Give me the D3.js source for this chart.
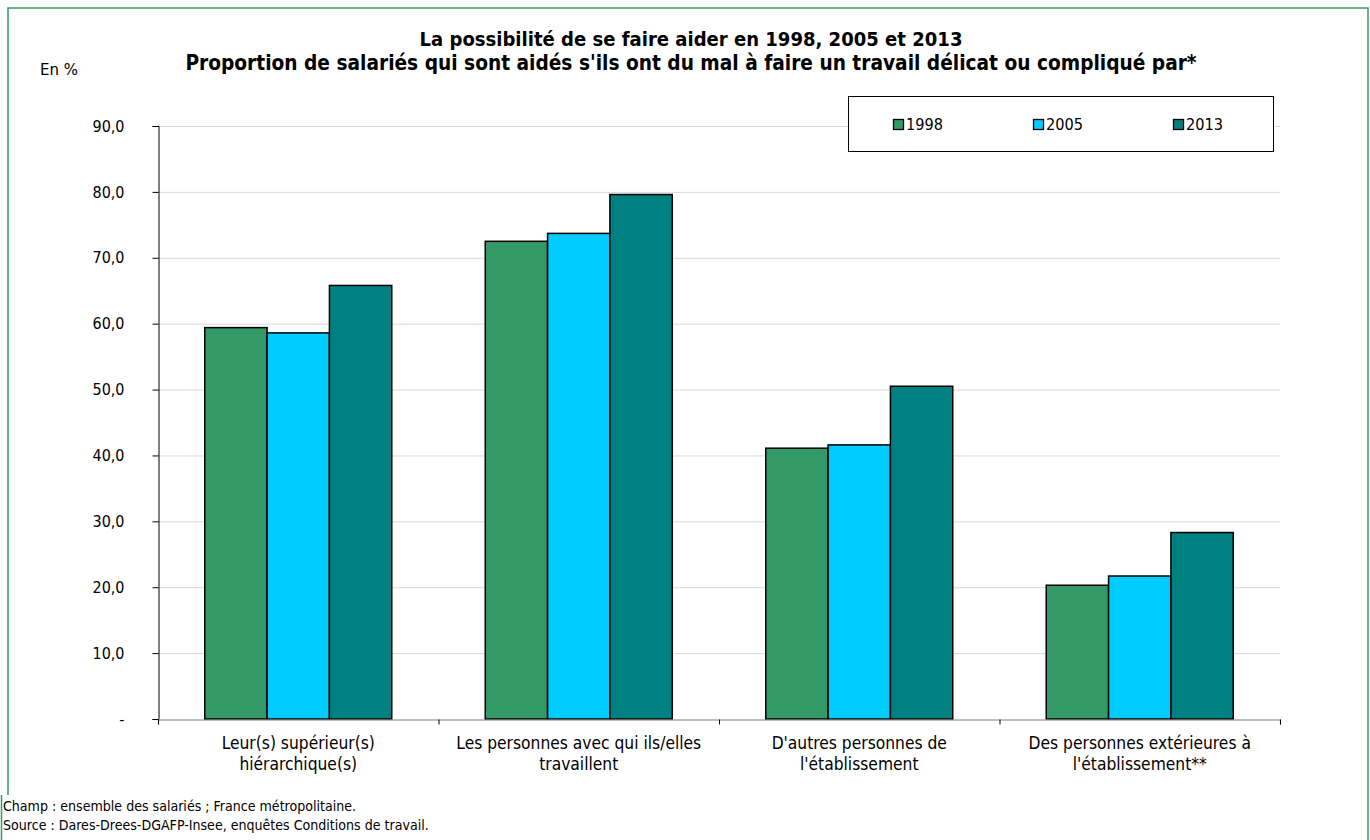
<!DOCTYPE html>
<html><head><meta charset="utf-8">
<script src="https://cdn.jsdelivr.net/npm/d3@7"></script>
<style>body{margin:0;background:#fff}svg{display:block}text{font-family:"DejaVu Sans",Verdana,sans-serif;font-stretch:condensed}</style>
</head><body>
<svg id="c" width="1370" height="840"></svg>
<script>
const categories = [
  ["Leur(s) supérieur(s)", "hiérarchique(s)"],
  ["Les personnes avec qui ils/elles", "travaillent"],
  ["D'autres personnes de", "l'établissement"],
  ["Des personnes extérieures à", "l'établissement**"]
];
const years = ["1998", "2005", "2013"];
const values1998 = [59.4, 72.5, 41.1, 20.3];
const values2005 = [58.6, 73.7, 41.6, 21.7];
const values2013 = [65.8, 79.6, 50.5, 28.3];
const colors = ["#339966", "#00ccff", "#008080"];
const yTicks = [0, 10, 20, 30, 40, 50, 60, 70, 80, 90];
const titleLines = ["La possibilité de se faire aider en 1998, 2005 et 2013",
  "Proportion de salariés qui sont aidés s'ils ont du mal à faire un travail délicat ou compliqué par*"];
const footnotes = ["Champ : ensemble des salariés ; France métropolitaine.",
  "Source : Dares-Drees-DGAFP-Insee, enquêtes Conditions de travail."];

const series = [values1998, values2005, values2013];
const svg = d3.select("#c");
const m = {left: 158, right: 1280, top: 126, bottom: 719};

function fitSize(sample, target, weight) {
  const t = svg.append("text").attr("font-size", 20).attr("font-weight", weight || "normal").text(sample);
  const w = t.node().getComputedTextLength();
  t.remove();
  return 20 * target / w;
}
const fsCat = fitSize("Les personnes avec qui ils/elles", 245);
const fsTick = fitSize("90,0", 32);
const fsFoot = fitSize("Source : Dares-Drees-DGAFP-Insee, enquêtes Conditions de travail.", 426);
const fsLeg = fitSize("1998", 37);
const fsEn = fitSize("En %", 38);

// outer frame
svg.append("rect").attr("x", 8).attr("y", 8).attr("width", 1360).attr("height", 840)
  .attr("fill", "none").attr("stroke", "#339966").attr("stroke-width", 1.5);

const x0 = d3.scaleBand().domain(d3.range(categories.length)).range([m.left, m.right]).paddingInner(0).paddingOuter(0);
const inner = x0.bandwidth() * 2 / 3;
const x1 = d3.scaleBand().domain(d3.range(years.length)).range([0, inner]);
const y = d3.scaleLinear().domain([0, 90]).range([m.bottom, m.top]);

// gridlines
svg.append("g").selectAll("line").data(yTicks.filter(d => d > 0)).join("line")
  .attr("x1", m.left).attr("x2", m.right)
  .attr("y1", d => y(d) + 0.5).attr("y2", d => y(d) + 0.5)
  .attr("stroke", "#d9d9d9").attr("stroke-width", 1);

// bars
const groups = svg.append("g").selectAll("g").data(categories.map((c, i) => i)).join("g")
  .attr("transform", i => `translate(${x0(i) + (x0.bandwidth() - inner) / 2},0)`);
groups.selectAll("rect").data(i => series.map((s, k) => ({k, v: s[i]}))).join("rect")
  .attr("x", d => x1(d.k)).attr("width", x1.bandwidth())
  .attr("y", d => y(d.v)).attr("height", d => y(0) - y(d.v))
  .attr("fill", d => colors[d.k]).attr("stroke", "#000").attr("stroke-width", 1.5);

// y axis
const yAxis = d3.axisLeft(y).tickValues(yTicks).tickSize(6).tickPadding(28)
  .tickFormat(d => d === 0 ? "-" : d3.format(".1f")(d).replace(".", ","));
const ga = svg.append("g").attr("transform", `translate(${m.left + 0.5},0)`).call(yAxis);
ga.select(".domain").attr("stroke", "#000");
ga.selectAll(".tick line").attr("stroke", "#000");
ga.selectAll(".tick text").attr("font-size", fsTick).attr("fill", "#000")
  .attr("font-family", "'DejaVu Sans',Verdana,sans-serif");

// x axis
const xb = d3.scaleLinear().domain([0, categories.length]).range([m.left, m.right]);
const gx = svg.append("g").attr("transform", `translate(0,${m.bottom + 0.5})`)
  .call(d3.axisBottom(xb).tickValues(d3.range(categories.length + 1)).tickSize(5).tickFormat(""));
gx.select(".domain").attr("stroke", "#808080").attr("stroke-width", 1.2);
gx.selectAll(".tick line").attr("stroke", "#000");

// category labels
categories.forEach((lines, i) => {
  const cx = x0(i) + x0.bandwidth() / 2;
  svg.append("text").attr("x", cx).attr("y", 749).attr("text-anchor", "middle")
    .attr("font-size", fsCat).text(lines[0]);
  svg.append("text").attr("x", cx).attr("y", 770).attr("text-anchor", "middle")
    .attr("font-size", fsCat).text(lines[1]);
});

// title
const tw = [543, 1012];
titleLines.forEach((t, i) => {
  svg.append("text").attr("x", 691).attr("y", i === 0 ? 46 : 70)
    .attr("text-anchor", "middle").attr("font-weight", "bold")
    .attr("font-size", fitSize(t, tw[i], "bold")).text(t);
});

svg.append("text").attr("x", 40).attr("y", 75).attr("font-size", fsEn).text("En %");

// legend
svg.append("rect").attr("x", 848.5).attr("y", 96.5).attr("width", 425).attr("height", 55)
  .attr("fill", "#fff").attr("stroke", "#000").attr("stroke-width", 1);
const lx = [893, 1033, 1173];
years.forEach((yr, k) => {
  svg.append("rect").attr("x", lx[k] + 0.5).attr("y", 119.5).attr("width", 10).attr("height", 10)
    .attr("fill", colors[k]).attr("stroke", "#000").attr("stroke-width", 1.3);
  svg.append("text").attr("x", lx[k] + 13).attr("y", 130).attr("font-size", fsLeg).text(yr);
});

// footnotes
const footBg = svg.append("rect").attr("x", 0).attr("y", 795).attr("width", 9).attr("height", 45).attr("fill", "#fff");
svg.append("line").attr("x1", 1.5).attr("x2", 1.5).attr("y1", 795).attr("y2", 840)
  .attr("stroke", "#339966").attr("stroke-width", 1.5);
footnotes.forEach((t, i) => {
  svg.append("text").attr("x", 3).attr("y", 811 + i * 19).attr("font-size", fsFoot).text(t);
});
</script>
</body></html>
